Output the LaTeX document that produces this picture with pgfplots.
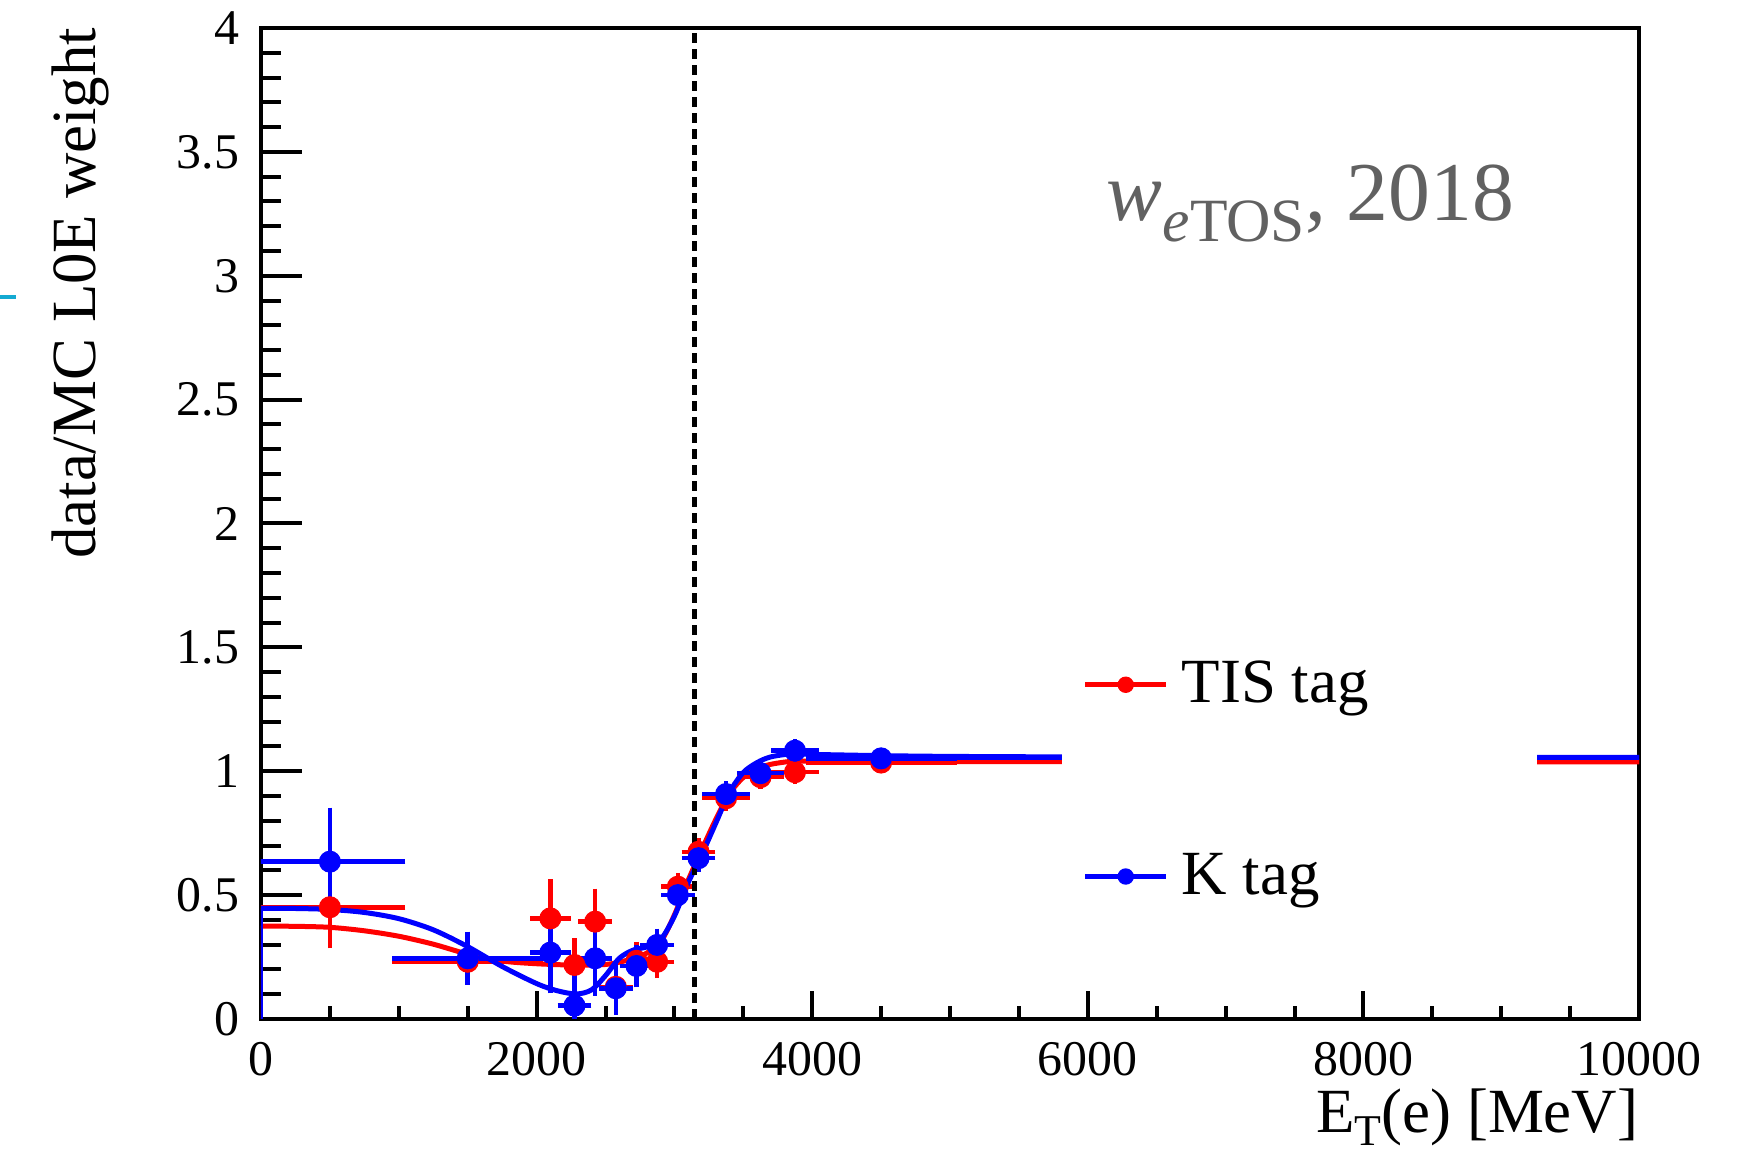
\documentclass[border=0pt]{standalone}
\usepackage{pgfplots}
\pgfplotsset{compat=1.18}
\usepackage{pgfplotstable}
\usepackage{fontspec}
\setmainfont{Liberation Serif}

\definecolor{tisred}{RGB}{255,0,0}
\definecolor{kblue}{RGB}{0,0,255}
\definecolor{labelgray}{RGB}{97,97,97}
\definecolor{strokecyan}{RGB}{20,170,210}

% data/MC weights, TIS-tagged sample: bin centre, value, half bin width, error
\pgfplotstableread{
x      y      ex    ey
500    0.451  500   0.140
1500   0.231  500   0.060
2100   0.406  100   0.131
2275   0.218  75    0.081
2425   0.393  75    0.107
2575   0.130  75    0.070
2725   0.235  75    0.050
2875   0.231  75    0.040
3025   0.534  75    0.030
3175   0.675  75    0.030
3375   0.891  125   0.025
3625   0.976  125   0.020
3875   0.996  125   0.020
4500   1.035  500   0.015
12500  1.039  7500  0.010
}\tistag

% data/MC weights, K-tagged sample
\pgfplotstableread{
x      y      ex    ey
500    0.635  500   0.192
1500   0.245  500   0.081
2100   0.268  100   0.138
2275   0.054  75    0.124
2425   0.245  75    0.124
2575   0.124  75    0.081
2725   0.214  75    0.060
2875   0.299  75    0.040
3025   0.500  75    0.030
3175   0.649  75    0.030
3375   0.908  125   0.025
3625   0.992  125   0.020
3875   1.083  125   0.020
4500   1.052  500   0.015
12500  1.056  7500  0.010
}\ktag

% fitted weight functions
\pgfplotstableread{
x      y
0      0.375
250    0.374
500    0.370
750    0.356
1000   0.334
1250   0.302
1500   0.262
1750   0.234
2000   0.223
2250   0.218
2500   0.220
2650   0.236
2780   0.260
2900   0.312
3000   0.420
3100   0.560
3200   0.685
3300   0.805
3400   0.910
3500   0.975
3600   1.010
3700   1.028
3850   1.040
4000   1.041
5000   1.039
10000  1.038
}\tisfit

\pgfplotstableread{
x      y
0      0.447
250    0.446
500    0.442
750    0.430
1000   0.405
1250   0.360
1500   0.292
1750   0.212
2000   0.143
2150   0.114
2290   0.101
2400   0.118
2500   0.175
2600   0.245
2700   0.278
2800   0.291
2900   0.320
3000   0.415
3100   0.550
3200   0.665
3300   0.790
3400   0.915
3500   0.995
3600   1.035
3700   1.058
3850   1.070
4000   1.068
4500   1.063
5000   1.060
6000   1.058
10000  1.056
}\kfit

\begin{document}
\begin{tikzpicture}
\useasboundingbox (-26.1mm,-13.1mm) rectangle (149.2mm,101.9mm);
\begin{axis}[
  at={(0,0)}, anchor=south west,
  width=137.8mm, height=99.1mm, scale only axis,
  xmin=0, xmax=10000, ymin=0, ymax=4,
  xtick={0,2000,...,10000},
  ytick={0,0.5,...,4},
  minor x tick num=3, minor y tick num=4,
  tick align=inside, tick pos=left,
  major tick length=4.1mm, minor tick length=2.0mm,
  xtick style={/pgfplots/major tick length=2.8mm, /pgfplots/minor tick length=1.3mm},
  tick style={black, line width=0.4mm},
  axis line style={line width=0.4mm},
  scaled x ticks=false, scaled y ticks=false,
  /pgf/number format/1000 sep={},
  /pgf/number format/assume math mode=true,
  tick label style={font=\fontsize{14.2}{17}\selectfont},
  xticklabel style={anchor=north, inner sep=0pt, yshift=-2.3mm},
  yticklabel style={anchor=east, inner sep=0pt, xshift=-2.1mm},
  xlabel={E\raisebox{-0.45ex}{\fontsize{12.5}{14}\selectfont T}(e) [MeV]},
  ylabel={data/MC L0E weight},
  every axis x label/.style={at={(rel axis cs:1,-0.1145)}, anchor=base east, inner sep=0pt, font=\fontsize{17.9}{21}\selectfont},
  every axis y label/.style={at={(rel axis cs:-0.1200,1.001)}, anchor=base east, rotate=90, inner sep=0pt, font=\fontsize{17.9}{21}\selectfont},
  legend cell align=left,
  legend style={at={(axis cs:5958,1.475)}, anchor=north west, draw=none, fill=none,
    inner sep=0pt, font=\fontsize{17.9}{21}\selectfont, row sep=13.1mm,
    /tikz/every odd column/.append style={column sep=0.6mm}},
]

% TIS tag: points with bin widths and errors
\addplot[tisred, mark=*, mark size=1.05mm, only marks,
  mark options={line width=0.1mm},
  legend image code/.code={\draw[tisred, line width=0.5mm] (0mm,0mm) -- (8.1mm,0mm); \fill[tisred] (4.05mm,0mm) circle (0.75mm);},
  error bars/.cd, x dir=both, x explicit, y dir=both, y explicit,
  error bar style={line width=0.45mm, tisred},
  error mark options={tisred, line width=0.45mm, mark size=0.65mm}]
  table[x=x, y=y, x error=ex, y error=ey] {\tistag};
\addlegendentry{TIS tag}

\addplot[tisred, line width=0.5mm, forget plot] coordinates {(0,0) (0,0.375)};
\addplot[tisred, line width=0.5mm, smooth, forget plot] table[x=x, y=y] {\tisfit};

% K tag
\addplot[kblue, mark=*, mark size=1.05mm, only marks,
  mark options={line width=0.1mm},
  legend image code/.code={\draw[kblue, line width=0.5mm] (0mm,0mm) -- (8.1mm,0mm); \fill[kblue] (4.05mm,0mm) circle (0.75mm);},
  error bars/.cd, x dir=both, x explicit, y dir=both, y explicit,
  error bar style={line width=0.45mm, kblue},
  error mark options={kblue, line width=0.45mm, mark size=0.65mm}]
  table[x=x, y=y, x error=ex, y error=ey] {\ktag};
\addlegendentry{K tag}

\addplot[kblue, line width=0.5mm, forget plot] coordinates {(0,0) (0,0.447)};
\addplot[kblue, line width=0.5mm, smooth, forget plot] table[x=x, y=y] {\kfit};

% threshold
\addplot[black, line width=0.45mm, dash pattern=on 1.0mm off 0.6mm, forget plot]
  coordinates {(3145,0) (3145,4)};

% legend box background
\fill[white] (axis cs:5813,0.24) rectangle (axis cs:9260,1.69);

\node[anchor=base east, inner sep=0pt, text=labelgray, font=\fontsize{23.8}{29}\selectfont]
  at (axis cs:9100,3.221)
  {\textit{w}\raisebox{-2.1mm}{\fontsize{17.5}{20}\selectfont\textit{e}TOS}, 2018};
\end{axis}
\draw[strokecyan, line width=0.45mm] (-26.1mm,72.2mm) -- (-24.5mm,72.2mm);
\end{tikzpicture}
\end{document}
